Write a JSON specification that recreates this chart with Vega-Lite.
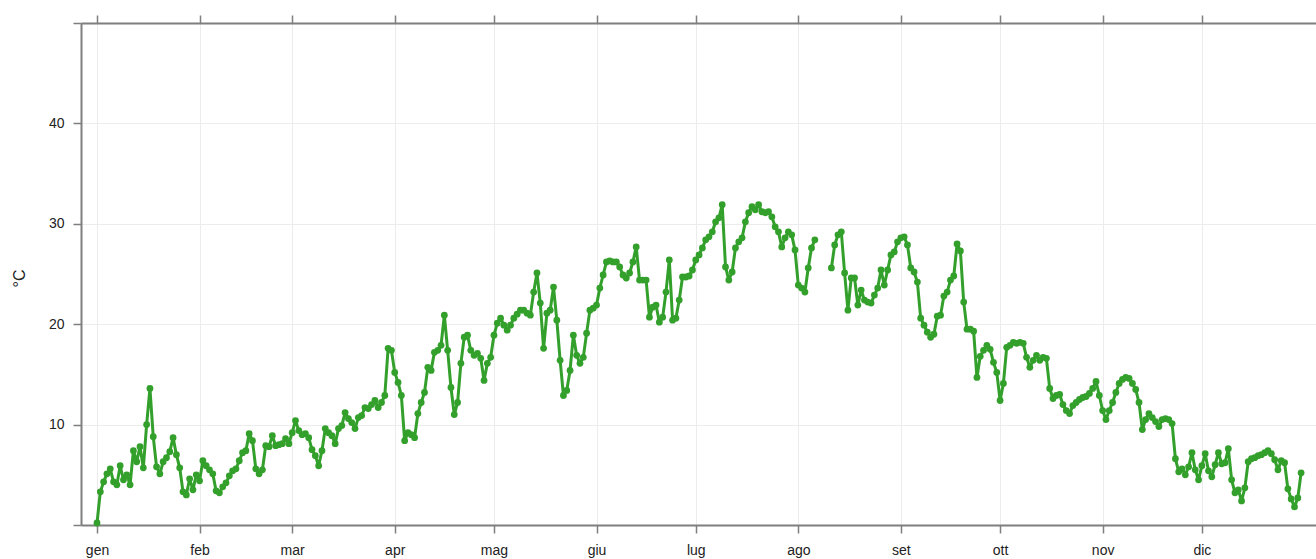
{
  "$schema": "https://vega.github.io/schema/vega-lite/v6.json",
  "width": 1235,
  "height": 502,
  "autosize": {"type": "none"},
  "padding": {"left": 81, "top": 23, "right": 0, "bottom": 34},
  "background": "white",
  "config": {
    "view": {"stroke": null},
    "font": "Liberation Sans",
    "axis": {"labelFont": "Liberation Sans", "titleFont": "Liberation Sans"}
  },
  "datasets": {
    "temperatura": [
      {"d": "2023-01-01", "t": 0.2}, {"d": "2023-01-02", "t": 3.3}, {"d": "2023-01-03", "t": 4.3}, {"d": "2023-01-04", "t": 5.1}, {"d": "2023-01-05", "t": 5.6}, {"d": "2023-01-06", "t": 4.3}, {"d": "2023-01-07", "t": 4.0}, {"d": "2023-01-08", "t": 5.9}, {"d": "2023-01-09", "t": 4.5}, {"d": "2023-01-10", "t": 5.0}, {"d": "2023-01-11", "t": 4.0}, {"d": "2023-01-12", "t": 7.4}, {"d": "2023-01-13", "t": 6.3}, {"d": "2023-01-14", "t": 7.8}, {"d": "2023-01-15", "t": 5.7}, {"d": "2023-01-16", "t": 10.0}, {"d": "2023-01-17", "t": 13.6}, {"d": "2023-01-18", "t": 8.8}, {"d": "2023-01-19", "t": 5.8}, {"d": "2023-01-20", "t": 5.1}, {"d": "2023-01-21", "t": 6.3}, {"d": "2023-01-22", "t": 6.7}, {"d": "2023-01-23", "t": 7.3}, {"d": "2023-01-24", "t": 8.7}, {"d": "2023-01-25", "t": 7.0}, {"d": "2023-01-26", "t": 5.7}, {"d": "2023-01-27", "t": 3.3}, {"d": "2023-01-28", "t": 3.0}, {"d": "2023-01-29", "t": 4.6}, {"d": "2023-01-30", "t": 3.5}, {"d": "2023-01-31", "t": 5.0},
      {"d": "2023-02-01", "t": 4.4}, {"d": "2023-02-02", "t": 6.4}, {"d": "2023-02-03", "t": 5.9}, {"d": "2023-02-04", "t": 5.5}, {"d": "2023-02-05", "t": 5.1}, {"d": "2023-02-06", "t": 3.4}, {"d": "2023-02-07", "t": 3.2}, {"d": "2023-02-08", "t": 3.8}, {"d": "2023-02-09", "t": 4.2}, {"d": "2023-02-10", "t": 4.9}, {"d": "2023-02-11", "t": 5.4}, {"d": "2023-02-12", "t": 5.6}, {"d": "2023-02-13", "t": 6.4}, {"d": "2023-02-14", "t": 7.2}, {"d": "2023-02-15", "t": 7.4}, {"d": "2023-02-16", "t": 9.1}, {"d": "2023-02-17", "t": 8.4}, {"d": "2023-02-18", "t": 5.6}, {"d": "2023-02-19", "t": 5.1}, {"d": "2023-02-20", "t": 5.5}, {"d": "2023-02-21", "t": 7.9}, {"d": "2023-02-22", "t": 7.8}, {"d": "2023-02-23", "t": 8.9}, {"d": "2023-02-24", "t": 7.9}, {"d": "2023-02-25", "t": 8.0}, {"d": "2023-02-26", "t": 8.1}, {"d": "2023-02-27", "t": 8.6}, {"d": "2023-02-28", "t": 8.1},
      {"d": "2023-03-01", "t": 9.2}, {"d": "2023-03-02", "t": 10.4}, {"d": "2023-03-03", "t": 9.4}, {"d": "2023-03-04", "t": 9.0}, {"d": "2023-03-05", "t": 9.1}, {"d": "2023-03-06", "t": 8.7}, {"d": "2023-03-07", "t": 7.5}, {"d": "2023-03-08", "t": 6.9}, {"d": "2023-03-09", "t": 5.9}, {"d": "2023-03-10", "t": 7.4}, {"d": "2023-03-11", "t": 9.6}, {"d": "2023-03-12", "t": 9.2}, {"d": "2023-03-13", "t": 8.9}, {"d": "2023-03-14", "t": 8.1}, {"d": "2023-03-15", "t": 9.6}, {"d": "2023-03-16", "t": 9.9}, {"d": "2023-03-17", "t": 11.2}, {"d": "2023-03-18", "t": 10.6}, {"d": "2023-03-19", "t": 10.2}, {"d": "2023-03-20", "t": 9.6}, {"d": "2023-03-21", "t": 10.7}, {"d": "2023-03-22", "t": 10.9}, {"d": "2023-03-23", "t": 11.7}, {"d": "2023-03-24", "t": 11.6}, {"d": "2023-03-25", "t": 12.0}, {"d": "2023-03-26", "t": 12.4}, {"d": "2023-03-27", "t": 11.7}, {"d": "2023-03-28", "t": 12.2}, {"d": "2023-03-29", "t": 12.9}, {"d": "2023-03-30", "t": 17.6}, {"d": "2023-03-31", "t": 17.4},
      {"d": "2023-04-01", "t": 15.2}, {"d": "2023-04-02", "t": 14.2}, {"d": "2023-04-03", "t": 12.9}, {"d": "2023-04-04", "t": 8.4}, {"d": "2023-04-05", "t": 9.2}, {"d": "2023-04-06", "t": 9.0}, {"d": "2023-04-07", "t": 8.7}, {"d": "2023-04-08", "t": 11.1}, {"d": "2023-04-09", "t": 12.2}, {"d": "2023-04-10", "t": 13.2}, {"d": "2023-04-11", "t": 15.7}, {"d": "2023-04-12", "t": 15.4}, {"d": "2023-04-13", "t": 17.2}, {"d": "2023-04-14", "t": 17.4}, {"d": "2023-04-15", "t": 17.9}, {"d": "2023-04-16", "t": 20.9}, {"d": "2023-04-17", "t": 17.4}, {"d": "2023-04-18", "t": 13.7}, {"d": "2023-04-19", "t": 11.0}, {"d": "2023-04-20", "t": 12.2}, {"d": "2023-04-21", "t": 16.1}, {"d": "2023-04-22", "t": 18.7}, {"d": "2023-04-23", "t": 18.9}, {"d": "2023-04-24", "t": 17.4}, {"d": "2023-04-25", "t": 16.9}, {"d": "2023-04-26", "t": 17.1}, {"d": "2023-04-27", "t": 16.6}, {"d": "2023-04-28", "t": 14.4}, {"d": "2023-04-29", "t": 16.1}, {"d": "2023-04-30", "t": 16.7},
      {"d": "2023-05-01", "t": 18.9}, {"d": "2023-05-02", "t": 20.1}, {"d": "2023-05-03", "t": 20.6}, {"d": "2023-05-04", "t": 19.9}, {"d": "2023-05-05", "t": 19.4}, {"d": "2023-05-06", "t": 19.9}, {"d": "2023-05-07", "t": 20.6}, {"d": "2023-05-08", "t": 21.0}, {"d": "2023-05-09", "t": 21.4}, {"d": "2023-05-10", "t": 21.4}, {"d": "2023-05-11", "t": 21.1}, {"d": "2023-05-12", "t": 20.9}, {"d": "2023-05-13", "t": 23.2}, {"d": "2023-05-14", "t": 25.1}, {"d": "2023-05-15", "t": 22.1}, {"d": "2023-05-16", "t": 17.6}, {"d": "2023-05-17", "t": 21.1}, {"d": "2023-05-18", "t": 21.4}, {"d": "2023-05-19", "t": 23.7}, {"d": "2023-05-20", "t": 20.4}, {"d": "2023-05-21", "t": 16.4}, {"d": "2023-05-22", "t": 12.9}, {"d": "2023-05-23", "t": 13.4}, {"d": "2023-05-24", "t": 15.4}, {"d": "2023-05-25", "t": 18.9}, {"d": "2023-05-26", "t": 16.9}, {"d": "2023-05-27", "t": 16.1}, {"d": "2023-05-28", "t": 16.7}, {"d": "2023-05-29", "t": 19.1}, {"d": "2023-05-30", "t": 21.4}, {"d": "2023-05-31", "t": 21.6},
      {"d": "2023-06-01", "t": 21.9}, {"d": "2023-06-02", "t": 23.6}, {"d": "2023-06-03", "t": 24.9}, {"d": "2023-06-04", "t": 26.2}, {"d": "2023-06-05", "t": 26.3}, {"d": "2023-06-06", "t": 26.2}, {"d": "2023-06-07", "t": 26.2}, {"d": "2023-06-08", "t": 25.7}, {"d": "2023-06-09", "t": 24.9}, {"d": "2023-06-10", "t": 24.6}, {"d": "2023-06-11", "t": 25.1}, {"d": "2023-06-12", "t": 26.2}, {"d": "2023-06-13", "t": 27.7}, {"d": "2023-06-14", "t": 24.4}, {"d": "2023-06-15", "t": 24.4}, {"d": "2023-06-16", "t": 24.4}, {"d": "2023-06-17", "t": 20.7}, {"d": "2023-06-18", "t": 21.7}, {"d": "2023-06-19", "t": 21.9}, {"d": "2023-06-20", "t": 20.2}, {"d": "2023-06-21", "t": 20.7}, {"d": "2023-06-22", "t": 23.2}, {"d": "2023-06-23", "t": 26.4}, {"d": "2023-06-24", "t": 20.4}, {"d": "2023-06-25", "t": 20.6}, {"d": "2023-06-26", "t": 22.4}, {"d": "2023-06-27", "t": 24.7}, {"d": "2023-06-28", "t": 24.7}, {"d": "2023-06-29", "t": 24.8}, {"d": "2023-06-30", "t": 25.4},
      {"d": "2023-07-01", "t": 26.4}, {"d": "2023-07-02", "t": 26.9}, {"d": "2023-07-03", "t": 27.6}, {"d": "2023-07-04", "t": 28.4}, {"d": "2023-07-05", "t": 28.7}, {"d": "2023-07-06", "t": 29.2}, {"d": "2023-07-07", "t": 30.2}, {"d": "2023-07-08", "t": 30.6}, {"d": "2023-07-09", "t": 31.9}, {"d": "2023-07-10", "t": 25.7}, {"d": "2023-07-11", "t": 24.4}, {"d": "2023-07-12", "t": 25.2}, {"d": "2023-07-13", "t": 27.6}, {"d": "2023-07-14", "t": 28.2}, {"d": "2023-07-15", "t": 28.6}, {"d": "2023-07-16", "t": 30.2}, {"d": "2023-07-17", "t": 31.1}, {"d": "2023-07-18", "t": 31.7}, {"d": "2023-07-19", "t": 31.4}, {"d": "2023-07-20", "t": 31.9}, {"d": "2023-07-21", "t": 31.2}, {"d": "2023-07-22", "t": 31.1}, {"d": "2023-07-23", "t": 31.2}, {"d": "2023-07-24", "t": 30.7}, {"d": "2023-07-25", "t": 29.7}, {"d": "2023-07-26", "t": 29.2}, {"d": "2023-07-27", "t": 27.7}, {"d": "2023-07-28", "t": 28.6}, {"d": "2023-07-29", "t": 29.2}, {"d": "2023-07-30", "t": 28.9}, {"d": "2023-07-31", "t": 27.4},
      {"d": "2023-08-01", "t": 23.9}, {"d": "2023-08-02", "t": 23.6}, {"d": "2023-08-03", "t": 23.2}, {"d": "2023-08-04", "t": 25.6}, {"d": "2023-08-05", "t": 27.6}, {"d": "2023-08-06", "t": 28.4}, {"d": "2023-08-07", "t": null}, {"d": "2023-08-08", "t": null}, {"d": "2023-08-09", "t": null}, {"d": "2023-08-10", "t": null}, {"d": "2023-08-11", "t": 25.6}, {"d": "2023-08-12", "t": 27.9}, {"d": "2023-08-13", "t": 28.9}, {"d": "2023-08-14", "t": 29.2}, {"d": "2023-08-15", "t": 25.1}, {"d": "2023-08-16", "t": 21.4}, {"d": "2023-08-17", "t": 24.6}, {"d": "2023-08-18", "t": 24.6}, {"d": "2023-08-19", "t": 21.9}, {"d": "2023-08-20", "t": 23.4}, {"d": "2023-08-21", "t": 22.4}, {"d": "2023-08-22", "t": 22.2}, {"d": "2023-08-23", "t": 22.1}, {"d": "2023-08-24", "t": 22.9}, {"d": "2023-08-25", "t": 23.6}, {"d": "2023-08-26", "t": 25.4}, {"d": "2023-08-27", "t": 23.9}, {"d": "2023-08-28", "t": 25.4}, {"d": "2023-08-29", "t": 26.9}, {"d": "2023-08-30", "t": 27.2}, {"d": "2023-08-31", "t": 28.2},
      {"d": "2023-09-01", "t": 28.6}, {"d": "2023-09-02", "t": 28.7}, {"d": "2023-09-03", "t": 27.9}, {"d": "2023-09-04", "t": 25.6}, {"d": "2023-09-05", "t": 25.2}, {"d": "2023-09-06", "t": 24.2}, {"d": "2023-09-07", "t": 20.6}, {"d": "2023-09-08", "t": 19.9}, {"d": "2023-09-09", "t": 19.2}, {"d": "2023-09-10", "t": 18.7}, {"d": "2023-09-11", "t": 19.0}, {"d": "2023-09-12", "t": 20.8}, {"d": "2023-09-13", "t": 20.9}, {"d": "2023-09-14", "t": 22.8}, {"d": "2023-09-15", "t": 23.2}, {"d": "2023-09-16", "t": 24.4}, {"d": "2023-09-17", "t": 24.8}, {"d": "2023-09-18", "t": 28.0}, {"d": "2023-09-19", "t": 27.3}, {"d": "2023-09-20", "t": 22.2}, {"d": "2023-09-21", "t": 19.5}, {"d": "2023-09-22", "t": 19.5}, {"d": "2023-09-23", "t": 19.3}, {"d": "2023-09-24", "t": 14.7}, {"d": "2023-09-25", "t": 16.8}, {"d": "2023-09-26", "t": 17.4}, {"d": "2023-09-27", "t": 17.9}, {"d": "2023-09-28", "t": 17.5}, {"d": "2023-09-29", "t": 16.2}, {"d": "2023-09-30", "t": 15.2},
      {"d": "2023-10-01", "t": 12.4}, {"d": "2023-10-02", "t": 14.1}, {"d": "2023-10-03", "t": 17.7}, {"d": "2023-10-04", "t": 17.9}, {"d": "2023-10-05", "t": 18.2}, {"d": "2023-10-06", "t": 18.1}, {"d": "2023-10-07", "t": 18.2}, {"d": "2023-10-08", "t": 18.1}, {"d": "2023-10-09", "t": 16.7}, {"d": "2023-10-10", "t": 15.7}, {"d": "2023-10-11", "t": 16.4}, {"d": "2023-10-12", "t": 16.9}, {"d": "2023-10-13", "t": 16.4}, {"d": "2023-10-14", "t": 16.7}, {"d": "2023-10-15", "t": 16.6}, {"d": "2023-10-16", "t": 13.6}, {"d": "2023-10-17", "t": 12.6}, {"d": "2023-10-18", "t": 12.9}, {"d": "2023-10-19", "t": 13.0}, {"d": "2023-10-20", "t": 12.0}, {"d": "2023-10-21", "t": 11.4}, {"d": "2023-10-22", "t": 11.1}, {"d": "2023-10-23", "t": 11.9}, {"d": "2023-10-24", "t": 12.2}, {"d": "2023-10-25", "t": 12.5}, {"d": "2023-10-26", "t": 12.7}, {"d": "2023-10-27", "t": 12.8}, {"d": "2023-10-28", "t": 13.1}, {"d": "2023-10-29", "t": 13.6}, {"d": "2023-10-30", "t": 14.3}, {"d": "2023-10-31", "t": 12.9},
      {"d": "2023-11-01", "t": 11.4}, {"d": "2023-11-02", "t": 10.5}, {"d": "2023-11-03", "t": 11.4}, {"d": "2023-11-04", "t": 12.2}, {"d": "2023-11-05", "t": 13.2}, {"d": "2023-11-06", "t": 14.1}, {"d": "2023-11-07", "t": 14.5}, {"d": "2023-11-08", "t": 14.7}, {"d": "2023-11-09", "t": 14.6}, {"d": "2023-11-10", "t": 14.1}, {"d": "2023-11-11", "t": 13.5}, {"d": "2023-11-12", "t": 12.2}, {"d": "2023-11-13", "t": 9.5}, {"d": "2023-11-14", "t": 10.5}, {"d": "2023-11-15", "t": 11.1}, {"d": "2023-11-16", "t": 10.7}, {"d": "2023-11-17", "t": 10.3}, {"d": "2023-11-18", "t": 9.8}, {"d": "2023-11-19", "t": 10.5}, {"d": "2023-11-20", "t": 10.6}, {"d": "2023-11-21", "t": 10.5}, {"d": "2023-11-22", "t": 10.1}, {"d": "2023-11-23", "t": 6.6}, {"d": "2023-11-24", "t": 5.3}, {"d": "2023-11-25", "t": 5.6}, {"d": "2023-11-26", "t": 5.0}, {"d": "2023-11-27", "t": 5.8}, {"d": "2023-11-28", "t": 7.2}, {"d": "2023-11-29", "t": 5.5}, {"d": "2023-11-30", "t": 4.5},
      {"d": "2023-12-01", "t": 5.9}, {"d": "2023-12-02", "t": 7.1}, {"d": "2023-12-03", "t": 5.4}, {"d": "2023-12-04", "t": 4.8}, {"d": "2023-12-05", "t": 6.0}, {"d": "2023-12-06", "t": 7.2}, {"d": "2023-12-07", "t": 6.1}, {"d": "2023-12-08", "t": 6.2}, {"d": "2023-12-09", "t": 7.6}, {"d": "2023-12-10", "t": 4.5}, {"d": "2023-12-11", "t": 3.2}, {"d": "2023-12-12", "t": 3.5}, {"d": "2023-12-13", "t": 2.4}, {"d": "2023-12-14", "t": 3.7}, {"d": "2023-12-15", "t": 6.3}, {"d": "2023-12-16", "t": 6.6}, {"d": "2023-12-17", "t": 6.7}, {"d": "2023-12-18", "t": 6.9}, {"d": "2023-12-19", "t": 7.0}, {"d": "2023-12-20", "t": 7.2}, {"d": "2023-12-21", "t": 7.4}, {"d": "2023-12-22", "t": 7.1}, {"d": "2023-12-23", "t": 6.5}, {"d": "2023-12-24", "t": 5.5}, {"d": "2023-12-25", "t": 6.4}, {"d": "2023-12-26", "t": 6.2}, {"d": "2023-12-27", "t": 3.6}, {"d": "2023-12-28", "t": 2.6}, {"d": "2023-12-29", "t": 1.8}, {"d": "2023-12-30", "t": 2.7}, {"d": "2023-12-31", "t": 5.2}
    ]
  },
  "data": {"name": "temperatura"},
  "layer": [
    {
      "encoding": {
        "x": {
          "field": "d",
          "type": "temporal",
          "scale": {
            "type": "utc",
            "domain": [
              {"year": 2022, "month": 12, "date": 27, "hours": 3, "minutes": 50, "utc": true},
              {"year": 2024, "month": 1, "date": 4, "hours": 12, "utc": true}
            ]
          },
          "axis": {
            "orient": "bottom",
            "title": null,
            "values": [
              {"year": 2023, "month": 1, "date": 1, "utc": true},
              {"year": 2023, "month": 2, "date": 1, "utc": true},
              {"year": 2023, "month": 3, "date": 1, "utc": true},
              {"year": 2023, "month": 4, "date": 1, "utc": true},
              {"year": 2023, "month": 5, "date": 1, "utc": true},
              {"year": 2023, "month": 6, "date": 1, "utc": true},
              {"year": 2023, "month": 7, "date": 1, "utc": true},
              {"year": 2023, "month": 8, "date": 1, "utc": true},
              {"year": 2023, "month": 9, "date": 1, "utc": true},
              {"year": 2023, "month": 10, "date": 1, "utc": true},
              {"year": 2023, "month": 11, "date": 1, "utc": true},
              {"year": 2023, "month": 12, "date": 1, "utc": true}
            ],
            "labelExpr": "['gen','feb','mar','apr','mag','giu','lug','ago','set','ott','nov','dic'][utcmonth(datum.value)]",
            "labelFlush": false,
            "labelOverlap": false,
            "labelFontSize": 14,
            "labelColor": "#222222",
            "labelPadding": 10,
            "grid": true,
            "gridColor": "#ececec",
            "gridWidth": 1,
            "domainColor": "#7f7f7f",
            "domainWidth": 2,
            "tickColor": "#7f7f7f",
            "tickWidth": 1.5,
            "tickSize": 8
          }
        },
        "y": {
          "field": "t",
          "type": "quantitative",
          "scale": {"domain": [0, 50], "nice": false, "zero": false},
          "axis": {
            "values": [0, 10, 20, 30, 40, 50],
            "labelExpr": "datum.value > 0 && datum.value < 50 ? datum.label : ''",
            "labelFontSize": 14,
            "labelColor": "#222222",
            "labelPadding": 9,
            "title": "°C",
            "titleFontSize": 16,
            "titleFontWeight": "normal",
            "titleColor": "#222222",
            "titleAngle": -90,
            "titleAlign": "center",
            "titleBaseline": "middle",
            "titleX": -62,
            "titleY": 255,
            "grid": true,
            "gridColor": "#ececec",
            "gridWidth": 1,
            "domainColor": "#7f7f7f",
            "domainWidth": 2,
            "tickColor": "#7f7f7f",
            "tickWidth": 1.5,
            "tickSize": 8
          }
        }
      },
      "layer": [
        {"mark": {"type": "line", "color": "#33a02c", "strokeWidth": 3, "strokeJoin": "round"}},
        {"mark": {"type": "point", "filled": true, "color": "#33a02c", "opacity": 1, "size": 46}}
      ]
    },
    {
      "mark": {"type": "rule", "opacity": 0},
      "encoding": {
        "x": {
          "field": "d",
          "type": "temporal",
          "scale": {
            "type": "utc",
            "domain": [
              {"year": 2022, "month": 12, "date": 27, "hours": 3, "minutes": 50, "utc": true},
              {"year": 2024, "month": 1, "date": 4, "hours": 12, "utc": true}
            ]
          },
          "axis": {
            "orient": "top",
            "title": null,
            "labels": false,
            "grid": false,
            "values": [
              {"year": 2023, "month": 1, "date": 1, "utc": true},
              {"year": 2023, "month": 2, "date": 1, "utc": true},
              {"year": 2023, "month": 3, "date": 1, "utc": true},
              {"year": 2023, "month": 4, "date": 1, "utc": true},
              {"year": 2023, "month": 5, "date": 1, "utc": true},
              {"year": 2023, "month": 6, "date": 1, "utc": true},
              {"year": 2023, "month": 7, "date": 1, "utc": true},
              {"year": 2023, "month": 8, "date": 1, "utc": true},
              {"year": 2023, "month": 9, "date": 1, "utc": true},
              {"year": 2023, "month": 10, "date": 1, "utc": true},
              {"year": 2023, "month": 11, "date": 1, "utc": true},
              {"year": 2023, "month": 12, "date": 1, "utc": true}
            ],
            "domainColor": "#7f7f7f",
            "domainWidth": 2,
            "tickColor": "#7f7f7f",
            "tickWidth": 1.5,
            "tickSize": 8
          }
        }
      }
    }
  ],
  "resolve": {"axis": {"x": "independent"}}
}
